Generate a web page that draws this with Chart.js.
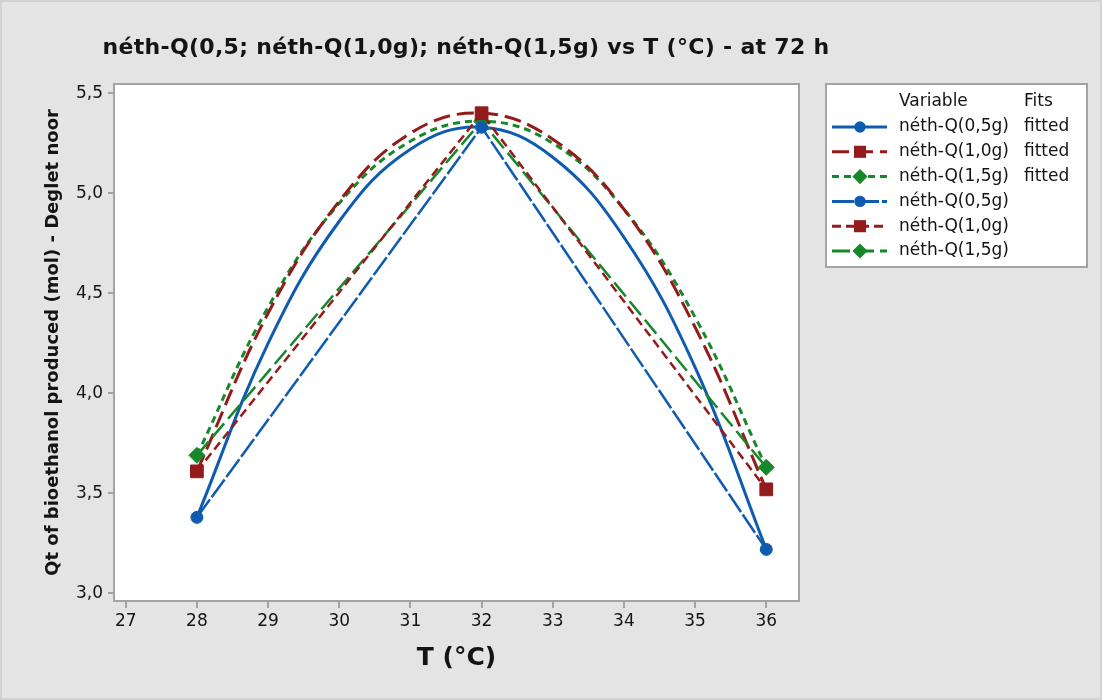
<!DOCTYPE html>
<html>
<head>
<meta charset="utf-8">
<script src="https://cdn.jsdelivr.net/npm/chart.js@4.4.0/dist/chart.umd.min.js"></script>
<style>
html,body{margin:0;padding:0;background:#e4e4e4;}
#wrap{width:1102px;height:700px;position:relative;}
canvas{display:block;}
</style>
</head>
<body>
<div id="wrap"><canvas id="c" width="1102" height="700"></canvas></div>
<script>
// ---- text ----
const chartTitle = 'néth-Q(0,5; néth-Q(1,0g); néth-Q(1,5g) vs T (°C) - at 72 h';
const xAxisTitle = 'T (°C)';
const yAxisTitle = 'Qt of bioethanol produced (mol) - Deglet noor';
const seriesNames = ['néth-Q(0,5g)', 'néth-Q(1,0g)', 'néth-Q(1,5g)'];
const legendHeader = ['Variable', 'Fits'];
const fitTag = 'fitted';

// ---- observed data (T in °C) ----
const tempObserved = [28, 32, 36];
const q05 = [3.38, 5.33, 3.22];
const q10 = [3.61, 5.40, 3.52];
const q15 = [3.69, 5.36, 3.63];

// ---- fitted curves ----
const tempFit = [28, 29, 30, 31, 32, 33, 34, 35, 36];
const q05Fit = [3.38, 4.25, 4.86, 5.22, 5.33, 5.18, 4.78, 4.13, 3.22];
const q10Fit = [3.61, 4.40, 4.96, 5.30, 5.40, 5.27, 4.92, 4.33, 3.52];
const q15Fit = [3.69, 4.43, 4.95, 5.26, 5.36, 5.25, 4.92, 4.38, 3.63];

// ---- tick labels ----
const xTicks = [27, 28, 29, 30, 31, 32, 33, 34, 35, 36];
const yTicks = [3.0, 3.5, 4.0, 4.5, 5.0, 5.5];

const FONT = "'DejaVu Sans', 'Liberation Sans', sans-serif";
const TXT = '#141414';
const BLUE = '#0f5bb0';
const RED = '#931b1b';
const GREEN = '#17882a';

function pts(xs, ys) { return xs.map((x, i) => ({ x: x, y: ys[i] })); }

const datasets = [
  { label: seriesNames[0], data: pts(tempObserved, q05), borderColor: BLUE, backgroundColor: BLUE,
    borderWidth: 2.5, borderDash: [22, 3], tension: 0, pointStyle: 'circle', pointRadius: 6,
    pointBackgroundColor: BLUE, pointBorderColor: BLUE, pointBorderWidth: 1, order: 1 },
  { label: seriesNames[1], data: pts(tempObserved, q10), borderColor: RED, backgroundColor: RED,
    borderWidth: 2.5, borderDash: [9, 5], tension: 0, pointStyle: 'rect', pointRadius: 9,
    pointBackgroundColor: RED, pointBorderColor: RED, pointBorderWidth: 1, order: 1 },
  { label: seriesNames[2], data: pts(tempObserved, q15), borderColor: GREEN, backgroundColor: GREEN,
    borderWidth: 2.5, borderDash: [18, 6], tension: 0, pointStyle: 'rectRot', pointRadius: 8,
    pointBackgroundColor: GREEN, pointBorderColor: GREEN, pointBorderWidth: 1, order: 1 },
  { label: seriesNames[0] + ' ' + fitTag, data: pts(tempFit, q05Fit), borderColor: BLUE,
    borderWidth: 3, borderDash: [], tension: 0.4, pointRadius: 0, order: 2 },
  { label: seriesNames[1] + ' ' + fitTag, data: pts(tempFit, q10Fit), borderColor: RED,
    borderWidth: 3, borderDash: [17, 7], tension: 0.4, pointRadius: 0, order: 2 },
  { label: seriesNames[2] + ' ' + fitTag, data: pts(tempFit, q15Fit), borderColor: GREEN,
    borderWidth: 3, borderDash: [7, 5], tension: 0.4, pointRadius: 0, order: 2 }
];

// legend rows: line style from dataset ds, marker from dataset mk
const legendRows = [
  { ds: 3, mk: 0, fit: true },
  { ds: 4, mk: 1, fit: true },
  { ds: 5, mk: 2, fit: true },
  { ds: 0, mk: 0, fit: false },
  { ds: 1, mk: 1, fit: false },
  { ds: 2, mk: 2, fit: false }
];

function drawMarker(ctx, style, r, x, y, color) {
  ctx.save();
  ctx.fillStyle = color;
  ctx.beginPath();
  if (style === 'circle') {
    ctx.arc(x, y, r, 0, Math.PI * 2);
  } else if (style === 'rect') {
    const s = r * Math.SQRT1_2;
    ctx.rect(x - s, y - s, 2 * s, 2 * s);
  } else {
    ctx.moveTo(x, y - r); ctx.lineTo(x + r, y); ctx.lineTo(x, y + r); ctx.lineTo(x - r, y); ctx.closePath();
  }
  ctx.fill();
  ctx.restore();
}

const decorPlugin = {
  id: 'decor',
  beforeDraw(chart) {
    const ctx = chart.ctx, a = chart.chartArea;
    ctx.save();
    ctx.fillStyle = '#e4e4e4';
    ctx.fillRect(0, 0, chart.width, chart.height);
    ctx.strokeStyle = '#d2d2d2';
    ctx.lineWidth = 2;
    ctx.strokeRect(1, 1, chart.width - 2, chart.height - 2);
    ctx.fillStyle = '#ffffff';
    ctx.fillRect(a.left, a.top, a.right - a.left, a.bottom - a.top);
    ctx.restore();
  },
  afterDraw(chart) {
    const ctx = chart.ctx, a = chart.chartArea;
    ctx.save();
    // plot frame
    ctx.strokeStyle = '#a3a3a3';
    ctx.lineWidth = 2;
    ctx.strokeRect(a.left, a.top, a.right - a.left, a.bottom - a.top);
    // title
    ctx.fillStyle = TXT;
    ctx.font = 'bold 22px ' + FONT;
    try { ctx.letterSpacing = '0.3px'; } catch (e) {}
    ctx.textAlign = 'center';
    ctx.textBaseline = 'alphabetic';
    ctx.fillText(chartTitle, 466, 54);
    try { ctx.letterSpacing = '0px'; } catch (e) {}
    // legend box
    const L = 826, T = 84, R = 1087, B = 267;
    ctx.fillStyle = '#ffffff';
    ctx.fillRect(L, T, R - L, B - T);
    ctx.strokeStyle = '#a3a3a3';
    ctx.lineWidth = 2;
    ctx.strokeRect(L, T, R - L, B - T);
    ctx.font = '17px ' + FONT;
    ctx.fillStyle = TXT;
    ctx.textAlign = 'left';
    ctx.textBaseline = 'middle';
    ctx.fillText(legendHeader[0], 899, 102);
    ctx.fillText(legendHeader[1], 1024, 102);
    legendRows.forEach((row, i) => {
      const y = 127 + i * 24.8;
      const d = chart.data.datasets[row.ds];
      const m = chart.data.datasets[row.mk];
      ctx.save();
      ctx.strokeStyle = d.borderColor;
      ctx.lineWidth = 3;
      ctx.setLineDash(d.borderDash || []);
      ctx.beginPath();
      ctx.moveTo(832, y);
      ctx.lineTo(887, y);
      ctx.stroke();
      ctx.restore();
      drawMarker(ctx, m.pointStyle, m.pointRadius * 0.95, 860, y, m.borderColor);
      ctx.fillStyle = TXT;
      ctx.fillText(seriesNames[row.mk], 899, y);
      if (row.fit) ctx.fillText(fitTag, 1024, y);
    });
    ctx.restore();
  }
};

const tickFmtY = v => Number(v).toFixed(1).replace('.', ',');

new Chart(document.getElementById('c'), {
  type: 'line',
  data: { datasets: datasets },
  options: {
    responsive: false,
    animation: false,
    devicePixelRatio: 1,
    layout: { padding: { top: 84, right: 303, bottom: 0, left: 0 } },
    plugins: {
      legend: { display: false },
      title: { display: false },
      tooltip: { enabled: false }
    },
    scales: {
      x: {
        type: 'linear',
        min: 26.835,
        max: 36.46,
        afterBuildTicks: s => { s.ticks = xTicks.map(v => ({ value: v })); },
        afterFit: s => { s.height = 99; },
        ticks: { font: { family: FONT, size: 17 }, color: TXT, padding: 3, maxRotation: 0,
          callback: v => String(v) },
        grid: { display: true, drawOnChartArea: false, drawTicks: true, tickLength: 7,
          color: '#a3a3a3', lineWidth: 2 },
        border: { display: false },
        title: { display: true, text: xAxisTitle, color: TXT,
          font: { family: FONT, size: 25, weight: 'bold' }, padding: { top: 0, bottom: 27 } }
      },
      y: {
        type: 'linear',
        min: 2.962,
        max: 5.546,
        afterBuildTicks: s => { s.ticks = yTicks.map(v => ({ value: v })); },
        afterFit: s => { s.width = 114; },
        ticks: { font: { family: FONT, size: 17 }, color: TXT, padding: 5, callback: tickFmtY },
        grid: { display: true, drawOnChartArea: false, drawTicks: true, tickLength: 6,
          color: '#a3a3a3', lineWidth: 2 },
        border: { display: false },
        title: { display: true, text: yAxisTitle, color: TXT,
          font: { family: FONT, size: 18, weight: 'bold' }, padding: { top: 43, bottom: 0 } }
      }
    }
  },
  plugins: [decorPlugin]
});
</script>
</body>
</html>
